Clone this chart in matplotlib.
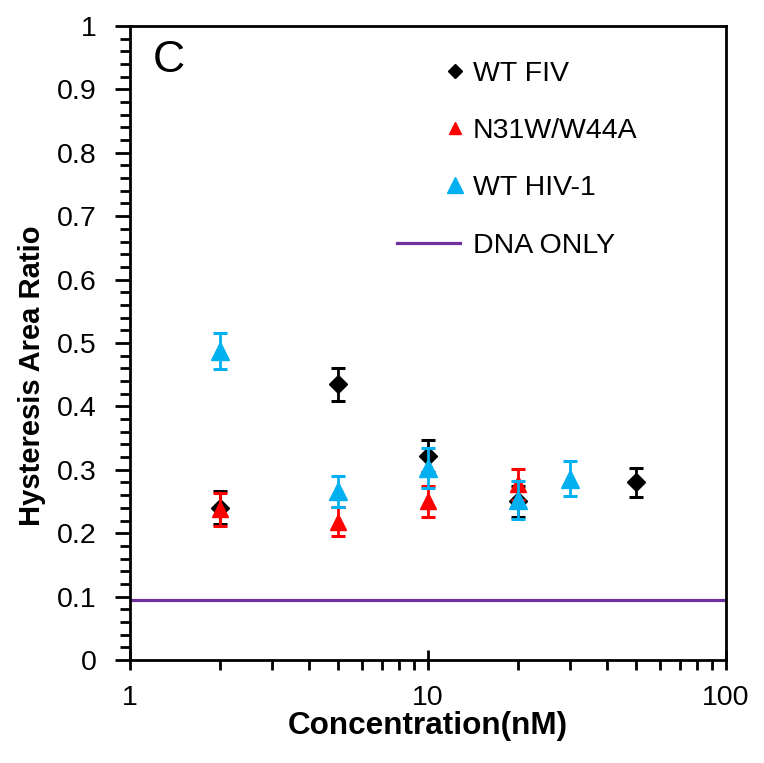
import matplotlib
matplotlib.use("Agg")
import matplotlib.pyplot as plt
from matplotlib.lines import Line2D
from matplotlib.legend_handler import HandlerLine2D
from matplotlib.ticker import MultipleLocator, FixedLocator, NullFormatter, FuncFormatter

plt.rcParams['font.family'] = ['Liberation Sans', 'DejaVu Sans']

# data
fiv_conc = [2, 5, 10, 20, 50]
fiv_ratio = [0.240, 0.435, 0.322, 0.250, 0.280]
fiv_err = [0.026, 0.026, 0.025, 0.025, 0.023]

mut_conc = [2, 5, 10, 20]
mut_ratio = [0.238, 0.218, 0.250, 0.277]
mut_err = [0.026, 0.023, 0.024, 0.024]

hiv_conc = [2, 5, 10, 20, 30]
hiv_ratio = [0.487, 0.266, 0.303, 0.253, 0.286]
hiv_err = [0.028, 0.024, 0.031, 0.030, 0.028]

dna_only = 0.095
x_range = [1, 100]

purple = "#7030a0"
red = "#ff0000"
cyan = "#00b0f0"


class RightMarker(HandlerLine2D):
    # legend marker sits at the right end of the handle, like in Excel
    def create_artists(self, legend, orig_handle, xdescent, ydescent,
                       width, height, fontsize, trans):
        x = width - xdescent - 0.15 * fontsize
        y = height / 2 - ydescent
        mark = Line2D([x], [y])
        self.update_prop(mark, orig_handle, legend)
        mark.set_transform(trans)
        return [mark]


fig = plt.figure(figsize=(7.64, 7.63), dpi=100)
ax = fig.add_axes([0.170, 0.135, 0.780, 0.831])

ax.plot(x_range, [dna_only, dna_only], color=purple, lw=2.3, zorder=1)

ax.errorbar(fiv_conc, fiv_ratio, yerr=fiv_err, fmt="D", color="black", ms=9,
            capsize=5, capthick=2.2, elinewidth=2, zorder=3)
ax.errorbar(mut_conc, mut_ratio, yerr=mut_err, fmt="^", color=red, ms=11,
            capsize=5, capthick=2.2, elinewidth=2, zorder=4)
ax.errorbar(hiv_conc, hiv_ratio, yerr=hiv_err, fmt="^", color=cyan, ms=13,
            capsize=5, capthick=2.2, elinewidth=2, zorder=5)

ax.set_xscale("log")
ax.set_xlim(1, 100)
ax.set_ylim(0, 1)
ax.yaxis.set_major_locator(MultipleLocator(0.1))
ax.yaxis.set_minor_locator(MultipleLocator(0.02))
ax.yaxis.set_major_formatter(FuncFormatter(lambda v, p: "0" if v == 0 else ("1" if v == 1 else f"{v:.1f}")))
ax.xaxis.set_major_locator(FixedLocator([1, 10, 100]))
ax.xaxis.set_major_formatter(FuncFormatter(lambda v, p: f"{v:g}"))
ax.xaxis.set_minor_formatter(NullFormatter())

for s in ax.spines.values():
    s.set_linewidth(2)
ax.tick_params(which="major", width=2, labelsize=20.5)
ax.tick_params(axis="y", which="major", length=11, pad=13)
ax.tick_params(axis="x", which="major", length=14, direction="inout", pad=11)
ax.tick_params(which="minor", length=7, width=2)

ax.set_xlabel("Concentration(nM)", fontsize=22.7, fontweight="bold", labelpad=0)
ax.set_ylabel("Hysteresis Area Ratio", fontsize=21, fontweight="bold")
ax.yaxis.set_label_coords(-0.140, 0.448)

ax.text(0.065, 0.945, "C", transform=ax.transAxes, fontsize=32, va="center", ha="center")

marker_handles = [
    Line2D([], [], ls="none", marker="D", color="black", ms=7),
    Line2D([], [], ls="none", marker="^", color=red, ms=9),
    Line2D([], [], ls="none", marker="^", color=cyan, ms=12),
]
line_handle = Line2D([], [], color=purple, lw=2.3)
labels = ["WT FIV", "N31W/W44A", "WT HIV-1", "DNA ONLY"]
handler_map = {h: RightMarker() for h in marker_handles}
ax.legend(marker_handles + [line_handle], labels, loc="upper left",
          bbox_to_anchor=(0.429, 0.963), frameon=False, fontsize=20.5,
          labelspacing=1.1, handlelength=2.2, handletextpad=0.46,
          borderaxespad=0, handler_map=handler_map)

fig.savefig("out.png", dpi=100)
